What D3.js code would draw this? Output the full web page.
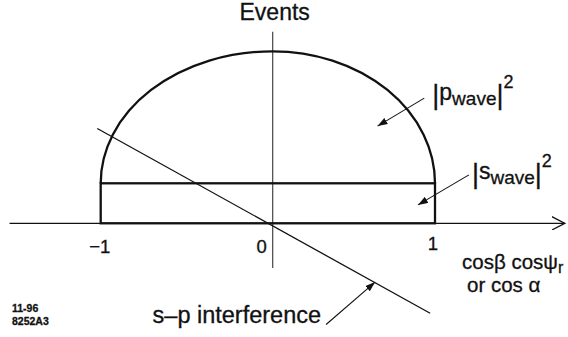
<!DOCTYPE html>
<html>
<head>
<meta charset="utf-8">
<script src="https://cdn.jsdelivr.net/npm/d3@7"></script>
<style>
  body { margin: 0; background: #fff; }
  svg { display: block; font-family: "Liberation Sans", Arial, Helvetica, sans-serif; }
  svg text { fill: #111; stroke: #111; stroke-width: 0.3px; }
</style>
</head>
<body>
<div id="chart"></div>
<script>
// values (y in units of the flat s-wave level)
const xTicks = [-1, 0, 1];
const xTickLabels = ['\u22121', '0', '1'];
const sWaveLevel = 1;            // |s_wave|^2, flat over -1..1
const pWavePeak = 3.3;           // extra |p_wave|^2 height at the centre
const interferenceX = [-1.02, 0.97];
const interferenceY = [2.37, -2.25];
const axisXExtent = [-1.53, 1.80];
const axisYExtent = [-1.12, 4.79];

// annotation arrows: from label to mark
const noteNames = ['p', 's', 'sp'];
const noteFrom = [[0.934, 3.13], [1.209, 1.21], [0.329, -2.53]];
const noteTo = [[0.646, 2.43], [0.895, 0.46], [0.631, -1.47]];

const width = 568;
const height = 337;

const svg = d3.select('#chart').append('svg')
  .attr('width', width)
  .attr('height', height);

const defs = svg.append('defs');
defs.append('marker')
  .attr('id', 'chevron')
  .attr('markerUnits', 'userSpaceOnUse')
  .attr('viewBox', '0 0 14 14')
  .attr('refX', 13).attr('refY', 7)
  .attr('markerWidth', 14).attr('markerHeight', 14)
  .attr('orient', 'auto')
  .append('path')
  .attr('d', 'M0,0.3L13,7L0,13.7')
  .attr('fill', 'none')
  .attr('stroke', '#111')
  .attr('stroke-width', 1.3);
defs.append('marker')
  .attr('id', 'head')
  .attr('markerUnits', 'userSpaceOnUse')
  .attr('viewBox', '0 0 10 7')
  .attr('refX', 10).attr('refY', 3.5)
  .attr('markerWidth', 10).attr('markerHeight', 7)
  .attr('orient', 'auto')
  .append('path')
  .attr('d', 'M0,0L10,3.5L0,7Z')
  .attr('fill', '#111');

// scales (the drawing is slightly wider left of zero than right of it)
const x = d3.scaleLinear()
  .domain(xTicks)
  .range([100.7, 272.7, 435]);
const y = d3.scaleLinear()
  .domain([0, sWaveLevel])
  .range([223.3, 183.3]);

// horizontal axis with open arrow
svg.append('line')
  .attr('x1', x(axisXExtent[0])).attr('x2', x(axisXExtent[1]))
  .attr('y1', y(0)).attr('y2', y(0))
  .attr('stroke', '#111')
  .attr('stroke-width', 1.3)
  .attr('marker-end', 'url(#chevron)');

// vertical axis
svg.append('line')
  .attr('x1', x(0)).attr('x2', x(0))
  .attr('y1', y(axisYExtent[1])).attr('y2', y(axisYExtent[0]))
  .attr('stroke', '#444')
  .attr('stroke-width', 1.2);

// |s_wave|^2 box
svg.append('rect')
  .attr('x', x(-1))
  .attr('y', y(sWaveLevel))
  .attr('width', x(1) - x(-1))
  .attr('height', y(0) - y(sWaveLevel))
  .attr('fill', 'none')
  .attr('stroke', '#111')
  .attr('stroke-width', 2.3);

// |p_wave|^2 on top: two quarter ellipses meeting at zero
const baseY = y(sWaveLevel);
const peakY = y(sWaveLevel + pWavePeak);
const ry = baseY - peakY;
svg.append('path')
  .attr('d', `M${x(-1)},${baseY}` +
    `A${x(0) - x(-1)},${ry} 0 0 1 ${x(0)},${peakY}` +
    `A${x(1) - x(0)},${ry} 0 0 1 ${x(1)},${baseY}`)
  .attr('fill', 'none')
  .attr('stroke', '#111')
  .attr('stroke-width', 2.3);

// s-p interference line
svg.append('line')
  .attr('x1', x(interferenceX[0])).attr('y1', y(interferenceY[0]))
  .attr('x2', x(interferenceX[1])).attr('y2', y(interferenceY[1]))
  .attr('stroke', '#111')
  .attr('stroke-width', 1.3);

// tick labels
const tickDx = [-1, -6, -2];
const tickAnchor = ['middle', 'end', 'middle'];
svg.selectAll('.tick-label')
  .data(xTicks)
  .enter()
  .append('text')
  .attr('class', 'tick-label')
  .attr('x', (d, i) => x(d) + tickDx[i])
  .attr('y', (d, i) => y(0) + (i === 2 ? 27 : 29.5))
  .attr('text-anchor', (d, i) => tickAnchor[i])
  .style('font-size', '18.5px')
  .text((d, i) => xTickLabels[i]);

// axis titles
svg.append('text')
  .attr('x', x(0) + 2)
  .attr('y', 19.5)
  .attr('text-anchor', 'middle')
  .style('font-size', '23px')
  .text('Events');

const xTitle = svg.append('text')
  .attr('x', 462)
  .attr('y', 268.5)
  .style('font-size', '20.5px');
xTitle.append('tspan').text('cos\u03b2 cos\u03c8');
xTitle.append('tspan').attr('dy', 4).style('font-size', '16px').text('r');
svg.append('text')
  .attr('x', 467)
  .attr('y', 292)
  .style('font-size', '20.5px')
  .text('or cos \u03b1');

// annotation arrows
svg.selectAll('.note-arrow')
  .data(noteNames)
  .enter()
  .append('line')
  .attr('class', 'note-arrow')
  .attr('x1', (d, i) => x(noteFrom[i][0]))
  .attr('y1', (d, i) => y(noteFrom[i][1]))
  .attr('x2', (d, i) => x(noteTo[i][0]))
  .attr('y2', (d, i) => y(noteTo[i][1]))
  .attr('stroke', '#111')
  .attr('stroke-width', 1.1)
  .attr('marker-end', 'url(#head)');

// |p_wave|^2 and |s_wave|^2 labels
function waveLabel(letter, px, py) {
  const t = svg.append('text')
    .attr('x', px)
    .attr('y', py);
  t.append('tspan').style('font-size', '27px').text('|');
  t.append('tspan').attr('dy', -4).style('font-size', '23px').text(letter);
  t.append('tspan').attr('dy', 5).style('font-size', '19px').text('wave');
  t.append('tspan').attr('dy', -1).style('font-size', '27px').text('|');
  t.append('tspan').attr('dy', -16).style('font-size', '18px').text('2');
}
waveLabel('p', x(noteFrom[0][0]) + 8, y(noteFrom[0][1]) + 6);
waveLabel('s', x(noteFrom[1][0]) + 3, y(noteFrom[1][1]) + 8);

svg.append('text')
  .attr('x', x(noteFrom[2][0]) - 5)
  .attr('y', y(noteFrom[2][1]) - 2)
  .attr('text-anchor', 'end')
  .style('font-size', '23.5px')
  .text('s\u2013p interference');

// figure code
const code = svg.append('text')
  .style('font-size', '10.5px')
  .style('font-weight', 'bold');
code.append('tspan').attr('x', 12).attr('y', 312).text('11-96');
code.append('tspan').attr('x', 12).attr('y', 325).text('8252A3');
</script>
</body>
</html>
